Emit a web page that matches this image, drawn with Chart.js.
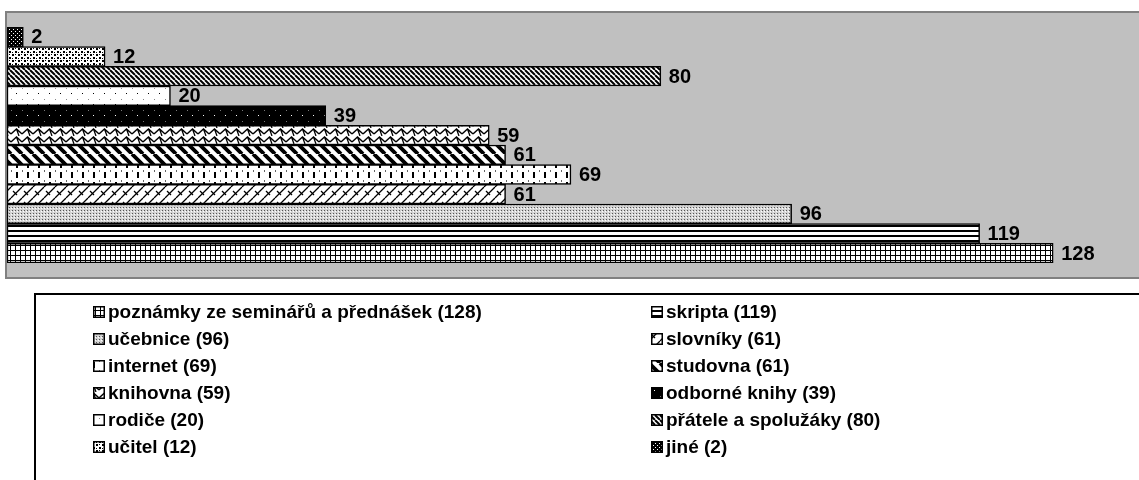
<!DOCTYPE html>
<html>
<head>
<meta charset="utf-8">
<script src="https://cdn.jsdelivr.net/npm/chart.js@4.4.1/dist/chart.umd.min.js"></script>
<style>
  body { margin: 0; background: #fff; }
  canvas { display: block; }
</style>
</head>
<body>
<canvas id="chart" width="1139" height="480"></canvas>
<script>
// ---- data (top bar first) ----
const labels = ['jiné', 'učitel', 'přátele a spolužáky', 'rodiče', 'odborné knihy', 'knihovna',
  'studovna', 'internet', 'slovníky', 'učebnice', 'skripta', 'poznámky ze seminářů a přednášek'];
const values = [2, 12, 80, 20, 39, 59, 61, 69, 61, 96, 119, 128];
const patternNames = ['darkDots', 'confetti', 'thinDiag', 'sparseDots', 'blackDots', 'shingle',
  'wideDiag', 'vDash', 'weave', 'fineGrey', 'hStripes', 'grid'];

const LABEL_FONT = 'bold 20px "Liberation Sans", Arial, sans-serif';
const LEGEND_FONT = 'bold 19px "Liberation Sans", Arial, sans-serif';

// ---- pattern fills (excel-like) ----
function makePattern(w, h, draw) {
  const c = document.createElement('canvas');
  c.width = w; c.height = h;
  const g = c.getContext('2d');
  g.fillStyle = '#fff';
  g.fillRect(0, 0, w, h);
  g.fillStyle = '#000';
  g.strokeStyle = '#000';
  draw(g, w, h);
  return g.createPattern(c, 'repeat');
}

function diag(g, w, h, lw, dir) {
  g.lineWidth = lw;
  g.beginPath();
  for (let o = -w; o <= w; o += w) {
    if (dir === '\\') { g.moveTo(o, 0); g.lineTo(o + w, h); }
    else { g.moveTo(o, h); g.lineTo(o + w, 0); }
  }
  g.stroke();
}

const PATTERNS = {
  darkDots: () => makePattern(4, 4, g => {
    g.fillRect(0, 0, 4, 4);
    g.fillStyle = '#fff';
    g.fillRect(1, 1, 1, 1); g.fillRect(3, 3, 1, 1);
  }),
  confetti: () => makePattern(6, 6, g => {
    g.fillRect(0, 0, 2, 2); g.fillRect(3, 3, 2, 2);
    g.fillRect(3, 0, 1, 1); g.fillRect(0, 4, 1, 1);
  }),
  thinDiag: () => makePattern(5, 5, (g, w, h) => diag(g, w, h, 2, '\\')),
  sparseDots: () => makePattern(11, 11, g => {
    g.fillRect(5, 5, 1, 1);
    g.fillStyle = '#888'; g.fillRect(0, 0, 1, 1);
  }),
  blackDots: () => makePattern(11, 11, g => {
    g.fillRect(0, 0, 11, 11);
    g.fillStyle = '#fff'; g.fillRect(5, 5, 1, 1);
    g.fillStyle = '#777'; g.fillRect(0, 0, 1, 1);
  }),
  shingle: () => makePattern(11, 8, g => {
    g.lineWidth = 1.3;
    g.beginPath();
    g.moveTo(0, 6); g.lineTo(5.5, 1); g.lineTo(11, 6);
    g.moveTo(5.5, 1); g.lineTo(8, 8);
    g.stroke();
  }),
  wideDiag: () => makePattern(11, 11, (g, w, h) => diag(g, w, h, 3.8, '\\')),
  vDash: () => makePattern(11, 10, g => {
    g.fillRect(5, 2, 2, 6);
    g.fillStyle = '#666'; g.fillRect(0, 0, 1, 2);
  }),
  weave: () => makePattern(11, 11, (g, w, h) => {
    diag(g, w, h, 1.3, '/');
    g.beginPath(); g.moveTo(2, 4); g.lineTo(6, 8); g.stroke();
  }),
  fineGrey: () => makePattern(3, 3, g => {
    g.fillStyle = '#d4d4d4'; g.fillRect(0, 0, 3, 3);
    g.fillStyle = '#555'; g.fillRect(0, 0, 1, 1);
    g.fillStyle = '#fff'; g.fillRect(2, 1, 1, 1);
  }),
  hStripes: () => makePattern(1, 5, g => {
    g.fillRect(0, 0, 1, 2);
  }),
  grid: () => makePattern(5, 5, g => {
    g.fillRect(0, 0, 5, 1); g.fillRect(0, 0, 1, 5);
  })
};

const fills = patternNames.map(n => PATTERNS[n]());

// ---- grey plot frame ----
const plotFrame = {
  id: 'plotFrame',
  beforeDatasetsDraw(chart) {
    const { ctx, chartArea } = chart;
    const top = chartArea.top - 15, bottom = chartArea.bottom + 15;
    ctx.save();
    ctx.fillStyle = '#c0c0c0';
    ctx.fillRect(6, top, chart.width, bottom - top);
    ctx.strokeStyle = '#808080';
    ctx.lineWidth = 2;
    ctx.strokeRect(6, top, chart.width + 10, bottom - top);
    ctx.restore();
  }
};

// ---- value labels at bar ends ----
const valueLabels = {
  id: 'valueLabels',
  afterDatasetsDraw(chart) {
    const { ctx } = chart;
    const meta = chart.getDatasetMeta(0);
    ctx.save();
    ctx.font = LABEL_FONT;
    ctx.fillStyle = '#000';
    ctx.textBaseline = 'middle';
    meta.data.forEach((bar, i) => {
      ctx.fillText(String(values[i]), bar.x + 8, bar.y + 1);
    });
    ctx.restore();
  }
};

// ---- boxed legend, two columns, reverse order ----
const boxLegend = {
  id: 'boxLegend',
  afterDraw(chart) {
    const { ctx } = chart;
    ctx.save();
    ctx.strokeStyle = '#000';
    ctx.lineWidth = 2;
    ctx.strokeRect(35, 294, chart.width + 20, 200);
    ctx.font = LEGEND_FONT;
    ctx.textBaseline = 'middle';
    const n = labels.length;
    for (let i = 0; i < n; i++) {
      const k = n - 1 - i;
      const row = Math.floor(i / 2), col = i % 2;
      const sx = col === 0 ? 93 : 651;
      const y = 312 + row * 27;
      ctx.fillStyle = fills[k];
      ctx.fillRect(sx, y - 6, 12, 12);
      ctx.lineWidth = 1.5;
      ctx.strokeStyle = '#000';
      ctx.strokeRect(sx + 0.75, y - 5.25, 10.5, 10.5);
      ctx.fillStyle = '#000';
      ctx.fillText(`${labels[k]} (${values[k]})`, sx + 15, y + 1);
    }
    ctx.restore();
  }
};

new Chart(document.getElementById('chart'), {
  type: 'bar',
  data: {
    labels: labels,
    datasets: [{
      data: values,
      backgroundColor: fills,
      borderColor: '#000',
      borderWidth: 1.5,
      borderSkipped: false,
      barPercentage: 1,
      categoryPercentage: 1
    }]
  },
  options: {
    indexAxis: 'y',
    responsive: false,
    animation: false,
    layout: { padding: { left: 7, top: 27, right: 0, bottom: 217 } },
    plugins: {
      legend: { display: false },
      tooltip: { enabled: false }
    },
    scales: {
      x: { display: false, min: 0, max: 138.5 },
      y: { display: false }
    }
  },
  plugins: [plotFrame, valueLabels, boxLegend]
});
</script>
</body>
</html>
